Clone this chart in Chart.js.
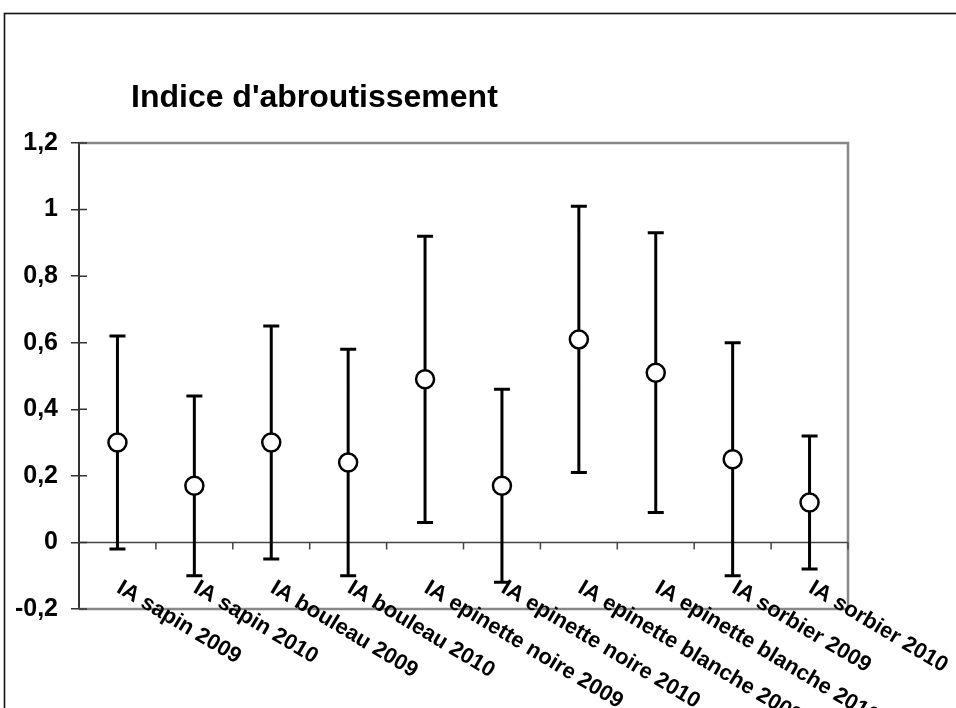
<!DOCTYPE html>
<html>
<head>
<meta charset="utf-8">
<script src="https://cdn.jsdelivr.net/npm/chart.js@4.4.1/dist/chart.umd.min.js"></script>
<style>
  html, body { margin: 0; padding: 0; background: #fff; }
</style>
</head>
<body>
<canvas id="chart" width="956" height="708"></canvas>
<script>
const chartTitle = "Indice d'abroutissement";
const categories = [
  "IA sapin 2009", "IA sapin 2010", "IA bouleau 2009", "IA bouleau 2010",
  "IA epinette noire 2009", "IA epinette noire 2010",
  "IA epinette blanche 2009", "IA epinette blanche 2010",
  "IA sorbier 2009", "IA sorbier 2010"
];
const means = [0.30, 0.17, 0.30, 0.24, 0.49, 0.17, 0.61, 0.51, 0.25, 0.12];
const upper = [0.62, 0.44, 0.65, 0.58, 0.92, 0.46, 1.01, 0.93, 0.60, 0.32];
const lower = [-0.02, -0.10, -0.05, -0.10, 0.06, -0.12, 0.21, 0.09, -0.10, -0.08];
const yTickLabels = ["-0,2", "0", "0,2", "0,4", "0,6", "0,8", "1", "1,2"];

const FONT = "'Liberation Sans', Arial, sans-serif";

// frame, title, plot box, error bars, rotated category labels
const decor = {
  id: "decor",
  beforeDraw(chart) {
    const ctx = chart.ctx;
    ctx.save();
    ctx.strokeStyle = "#111";
    ctx.lineWidth = 1.6;
    ctx.strokeRect(4.5, 13.5, 1200, 1200);
    ctx.fillStyle = "#000";
    ctx.font = "bold 32px " + FONT;
    ctx.textBaseline = "alphabetic";
    ctx.fillText(chartTitle, 131, 107);
    ctx.restore();
  },
  beforeDatasetsDraw(chart) {
    const ctx = chart.ctx;
    const a = chart.chartArea;
    const x = chart.scales.x;
    const y = chart.scales.y;
    ctx.save();
    // grey box top / right / bottom
    ctx.strokeStyle = "#888";
    ctx.lineWidth = 2.5;
    ctx.beginPath();
    ctx.moveTo(a.left, a.top);
    ctx.lineTo(a.right, a.top);
    ctx.lineTo(a.right, a.bottom);
    ctx.lineTo(a.left, a.bottom);
    ctx.stroke();
    // zero line with category boundary ticks
    const y0 = y.getPixelForValue(0);
    ctx.strokeStyle = "#444";
    ctx.lineWidth = 1.5;
    ctx.beginPath();
    ctx.moveTo(a.left, y0);
    ctx.lineTo(a.right, y0);
    for (let i = 1; i <= categories.length; i++) {
      const bx = i < categories.length
        ? (x.getPixelForValue(i - 1) + x.getPixelForValue(i)) / 2
        : a.right;
      ctx.moveTo(bx, y0);
      ctx.lineTo(bx, y0 + 7);
    }
    ctx.stroke();
    // inner half of y ticks
    ctx.strokeStyle = "#333";
    ctx.beginPath();
    y.ticks.forEach((t) => {
      const py = y.getPixelForValue(t.value);
      ctx.moveTo(a.left, py);
      ctx.lineTo(a.left + 8, py);
    });
    ctx.stroke();
    // error bars
    ctx.strokeStyle = "#000";
    ctx.lineWidth = 3;
    ctx.beginPath();
    categories.forEach((c, i) => {
      const px = x.getPixelForValue(i);
      const pu = y.getPixelForValue(upper[i]);
      const pl = y.getPixelForValue(lower[i]);
      ctx.moveTo(px, pu);
      ctx.lineTo(px, pl);
      ctx.moveTo(px - 8, pu);
      ctx.lineTo(px + 8, pu);
      ctx.moveTo(px - 8, pl);
      ctx.lineTo(px + 8, pl);
    });
    ctx.stroke();
    ctx.restore();
  },
  afterDraw(chart) {
    const ctx = chart.ctx;
    const x = chart.scales.x;
    const y = chart.scales.y;
    const ly = y.getPixelForValue(0) + 49;
    ctx.save();
    ctx.fillStyle = "#000";
    ctx.font = "bold 22px " + FONT;
    ctx.textAlign = "left";
    ctx.textBaseline = "alphabetic";
    categories.forEach((c, i) => {
      ctx.save();
      ctx.translate(x.getPixelForValue(i) - 2, ly);
      ctx.rotate(31 * Math.PI / 180);
      ctx.fillText(c, 0, 0);
      ctx.restore();
    });
    ctx.restore();
  }
};

new Chart(document.getElementById("chart"), {
  type: "line",
  data: {
    labels: categories,
    datasets: [
      {
        data: means,
        showLine: false,
        pointRadius: 9,
        pointHoverRadius: 9,
        pointBorderWidth: 2.5,
        pointBackgroundColor: "#fff",
        pointBorderColor: "#000",
      },
    ],
  },
  options: {
    responsive: false,
    animation: false,
    events: [],
    layout: { padding: { top: 143, right: 108, bottom: 99, left: 0 } },
    plugins: { legend: { display: false }, tooltip: { enabled: false }, title: { display: false } },
    scales: {
      x: { display: false, offset: true, ticks: { autoSkip: false } },
      y: {
        min: -0.2,
        max: 1.2,
        afterFit: (scale) => { scale.width = 79; },
        ticks: {
          stepSize: 0.2,
          padding: 13,
          color: "#000",
          font: { family: FONT, size: 25, weight: "bold" },
          callback: (v, i) => yTickLabels[i],
        },
        grid: { drawOnChartArea: false, tickLength: 8, color: "#333", lineWidth: 1.5 },
        border: { color: "#333", width: 2 },
      },
    },
  },
  plugins: [decor],
});
</script>
</body>
</html>
